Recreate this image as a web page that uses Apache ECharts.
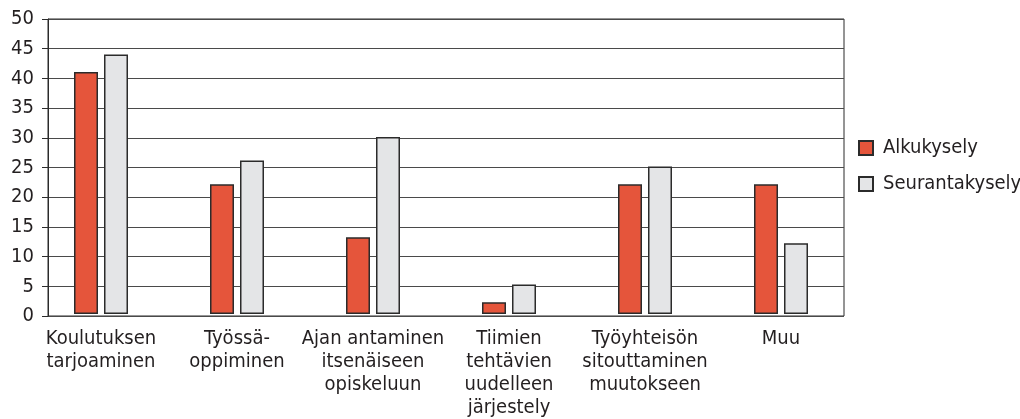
<!DOCTYPE html>
<html lang="fi">

<head>
    <meta charset="UTF-8">
    <title>Alkukysely ja seurantakysely</title>
    <script src="https://cdn.jsdelivr.net/npm/echarts@6/dist/echarts.min.js"></script>
    <style>
        html, body { margin: 0; padding: 0; background: #fff; }
        #chart { width: 1020px; height: 419px; }
    </style>
</head>

<body>
    <div id="chart"></div>
    <script>
        var categories = [
            'Koulutuksen\ntarjoaminen',
            'Työssä-\noppiminen',
            'Ajan antaminen\nitsenäiseen\nopiskeluun',
            'Tiimien\ntehtävien\nuudelleen\njärjestely',
            'Työyhteisön\nsitouttaminen\nmuutokseen',
            'Muu'
        ];
        var alkukysely = [41, 22, 13, 2, 22, 22];
        var seurantakysely = [44, 26, 30, 5, 25, 12];
        var seriesNames = ['Alkukysely', 'Seurantakysely'];

        var font = 'DejaVu Sans Condensed';
        var textColor = '#231f20';
        var lineColor = '#2b2b2b';

        var chart = echarts.init(document.getElementById('chart'));

        var option = {
            backgroundColor: '#fff',
            animation: false,
            textStyle: { fontFamily: font, color: textColor },
            legend: {
                orient: 'vertical',
                left: 853,
                top: 133,
                itemWidth: 14,
                itemHeight: 14,
                itemGap: 16,
                icon: 'rect',
                data: seriesNames,
                textStyle: {
                    fontFamily: font,
                    fontSize: 20,
                    color: textColor,
                    padding: [0, 0, 0, 5]
                }
            },
            grid: [
                // frame with the value axis
                {
                    left: 48, top: 19, width: 796, height: 297,
                    show: true, borderColor: lineColor, borderWidth: 1,
                    containLabel: false
                },
                // bars
                {
                    left: 33, top: 19, width: 816, height: 297,
                    containLabel: false
                }
            ],
            xAxis: [
                {
                    gridIndex: 0, type: 'value', min: 0, max: 1,
                    show: false
                },
                {
                    gridIndex: 1, type: 'category', data: categories,
                    axisLine: { show: false },
                    axisTick: { show: false },
                    axisLabel: {
                        interval: 0,
                        margin: 13,
                        fontFamily: font,
                        fontSize: 20,
                        lineHeight: 23,
                        color: textColor,
                        align: 'center'
                    }
                }
            ],
            yAxis: [
                {
                    gridIndex: 0, type: 'value', min: 0, max: 50, interval: 5,
                    axisLine: { show: true, lineStyle: { color: lineColor, width: 1 } },
                    axisTick: { show: true, length: 6, lineStyle: { color: lineColor } },
                    axisLabel: { margin: 14, fontFamily: font, fontSize: 20, color: textColor },
                    splitLine: { show: true, lineStyle: { color: '#4a4a4a', width: 1 } }
                },
                {
                    gridIndex: 1, type: 'value', min: 0, max: 50,
                    show: false, splitLine: { show: false }
                }
            ],
            series: [
                {
                    name: seriesNames[0],
                    type: 'bar',
                    xAxisIndex: 1, yAxisIndex: 1,
                    data: alkukysely,
                    barWidth: 24,
                    barGap: '25%',
                    itemStyle: { color: '#e5553b', borderColor: lineColor, borderWidth: 1.5 }
                },
                {
                    name: seriesNames[1],
                    type: 'bar',
                    xAxisIndex: 1, yAxisIndex: 1,
                    data: seurantakysely,
                    barWidth: 24,
                    barGap: '25%',
                    itemStyle: { color: '#e4e5e7', borderColor: lineColor, borderWidth: 1.5 }
                }
            ]
        };

        option && chart.setOption(option);
    </script>
</body>

</html>
